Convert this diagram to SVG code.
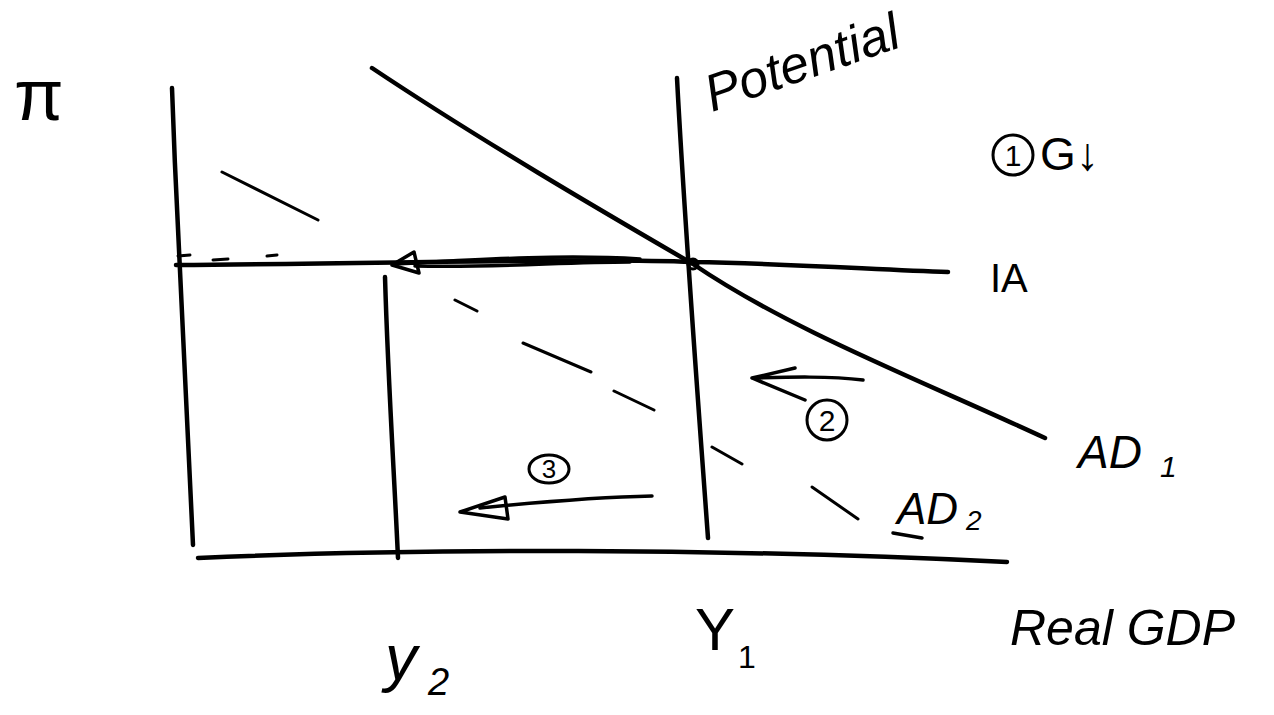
<svg xmlns="http://www.w3.org/2000/svg" width="1274" height="715" viewBox="0 0 1274 715">
<style>
.ln{fill:none;stroke:#000;stroke-width:4.5;stroke-linecap:round;stroke-linejoin:round}
.thin{fill:none;stroke:#000;stroke-width:3.5;stroke-linecap:round;stroke-linejoin:round}
.dash{fill:none;stroke:#000;stroke-width:3;stroke-linecap:round}
.t{font-family:"Liberation Sans","DejaVu Sans",sans-serif;fill:#000;font-style:italic}
.u{font-family:"Liberation Sans","DejaVu Sans",sans-serif;fill:#000;font-style:normal}
.c{text-anchor:middle}
</style>
<rect width="1274" height="715" fill="#fff"/>
<g id="axes">
<path class="ln" d="M172,88 C178,250 186,420 193,545"/>
<path class="ln" d="M198,558 C420,548 720,548 1007,562"/>
</g>
<g id="potential-line">
<path class="ln" d="M677,78 C685,230 698,400 708,538"/>
</g>
<g id="y2-line">
<path class="ln" d="M385,277 C388,380 394,470 398,558"/>
</g>
<g id="ia-line">
<path class="ln" d="M176,265 C420,263 600,258 693,262 C800,264 880,270 948,272"/>
<path class="dash" d="M178,256 L190,255 M213,260 L228,259 M267,256 L277,255"/>
</g>
<g id="ad1">
<path class="ln" d="M372,68 C480,140 600,210 693,264 C790,330 920,380 1045,438"/>
</g>
<g id="ad2">
<path class="dash" d="M222,172 L318,220 M455,300 L477,311 M523,343 L591,372 M614,391 L654,410 M712,447 L742,464 M812,487 L858,519"/>
</g>
<g id="connectors">
<path class="thin" d="M640,259 C560,254 470,260 395,264 M630,262 C560,262 500,268 415,266"/>
<path class="thin" d="M392,265 L414,252 L419,273 Z"/>
<circle cx="693" cy="264" r="5" fill="none" stroke="#000" stroke-width="3"/>
<path class="thin" d="M863,380 C830,376 790,377 752,378 M752,378 L795,368 M752,378 L805,400"/>
<path class="thin" d="M652,496 C600,497 520,504 480,508"/>
<path class="thin" d="M460,512 L505,497 L508,519 Z"/>
</g>
<g id="labels">
<text class="u" x="14" y="120" font-size="72">π</text>
<text class="t" x="712" y="112" font-size="52" transform="rotate(-19 712 112)">Potential</text>
<circle cx="1013" cy="155" r="20" fill="none" stroke="#000" stroke-width="3"/>
<text class="u c" x="1013" y="166" font-size="30">1</text>
<text class="u" x="1040" y="170" font-size="46">G↓</text>
<text class="u" x="990" y="292" font-size="40">IA</text>
<text class="t" x="1078" y="468" font-size="46">AD</text>
<text class="t" x="1160" y="477" font-size="30">1</text>
<text class="t" x="897" y="524" font-size="44">AD</text>
<text class="t" x="966" y="530" font-size="28">2</text>
<path class="thin" d="M893,533 L922,538"/>
<circle cx="827" cy="420" r="20" fill="none" stroke="#000" stroke-width="3"/>
<text class="u c" x="827" y="431" font-size="30">2</text>
<ellipse cx="549" cy="469" rx="20" ry="14" fill="none" stroke="#000" stroke-width="3"/>
<text class="u c" x="549" y="478" font-size="26">3</text>
<text class="t" x="385" y="680" font-size="64">y</text>
<text class="t" x="428" y="695" font-size="38">2</text>
<text class="u" x="695" y="650" font-size="60">Y</text>
<text class="u" x="738" y="668" font-size="32">1</text>
<text class="t" x="1010" y="645" font-size="50">Real GDP</text>
</g>
</svg>
